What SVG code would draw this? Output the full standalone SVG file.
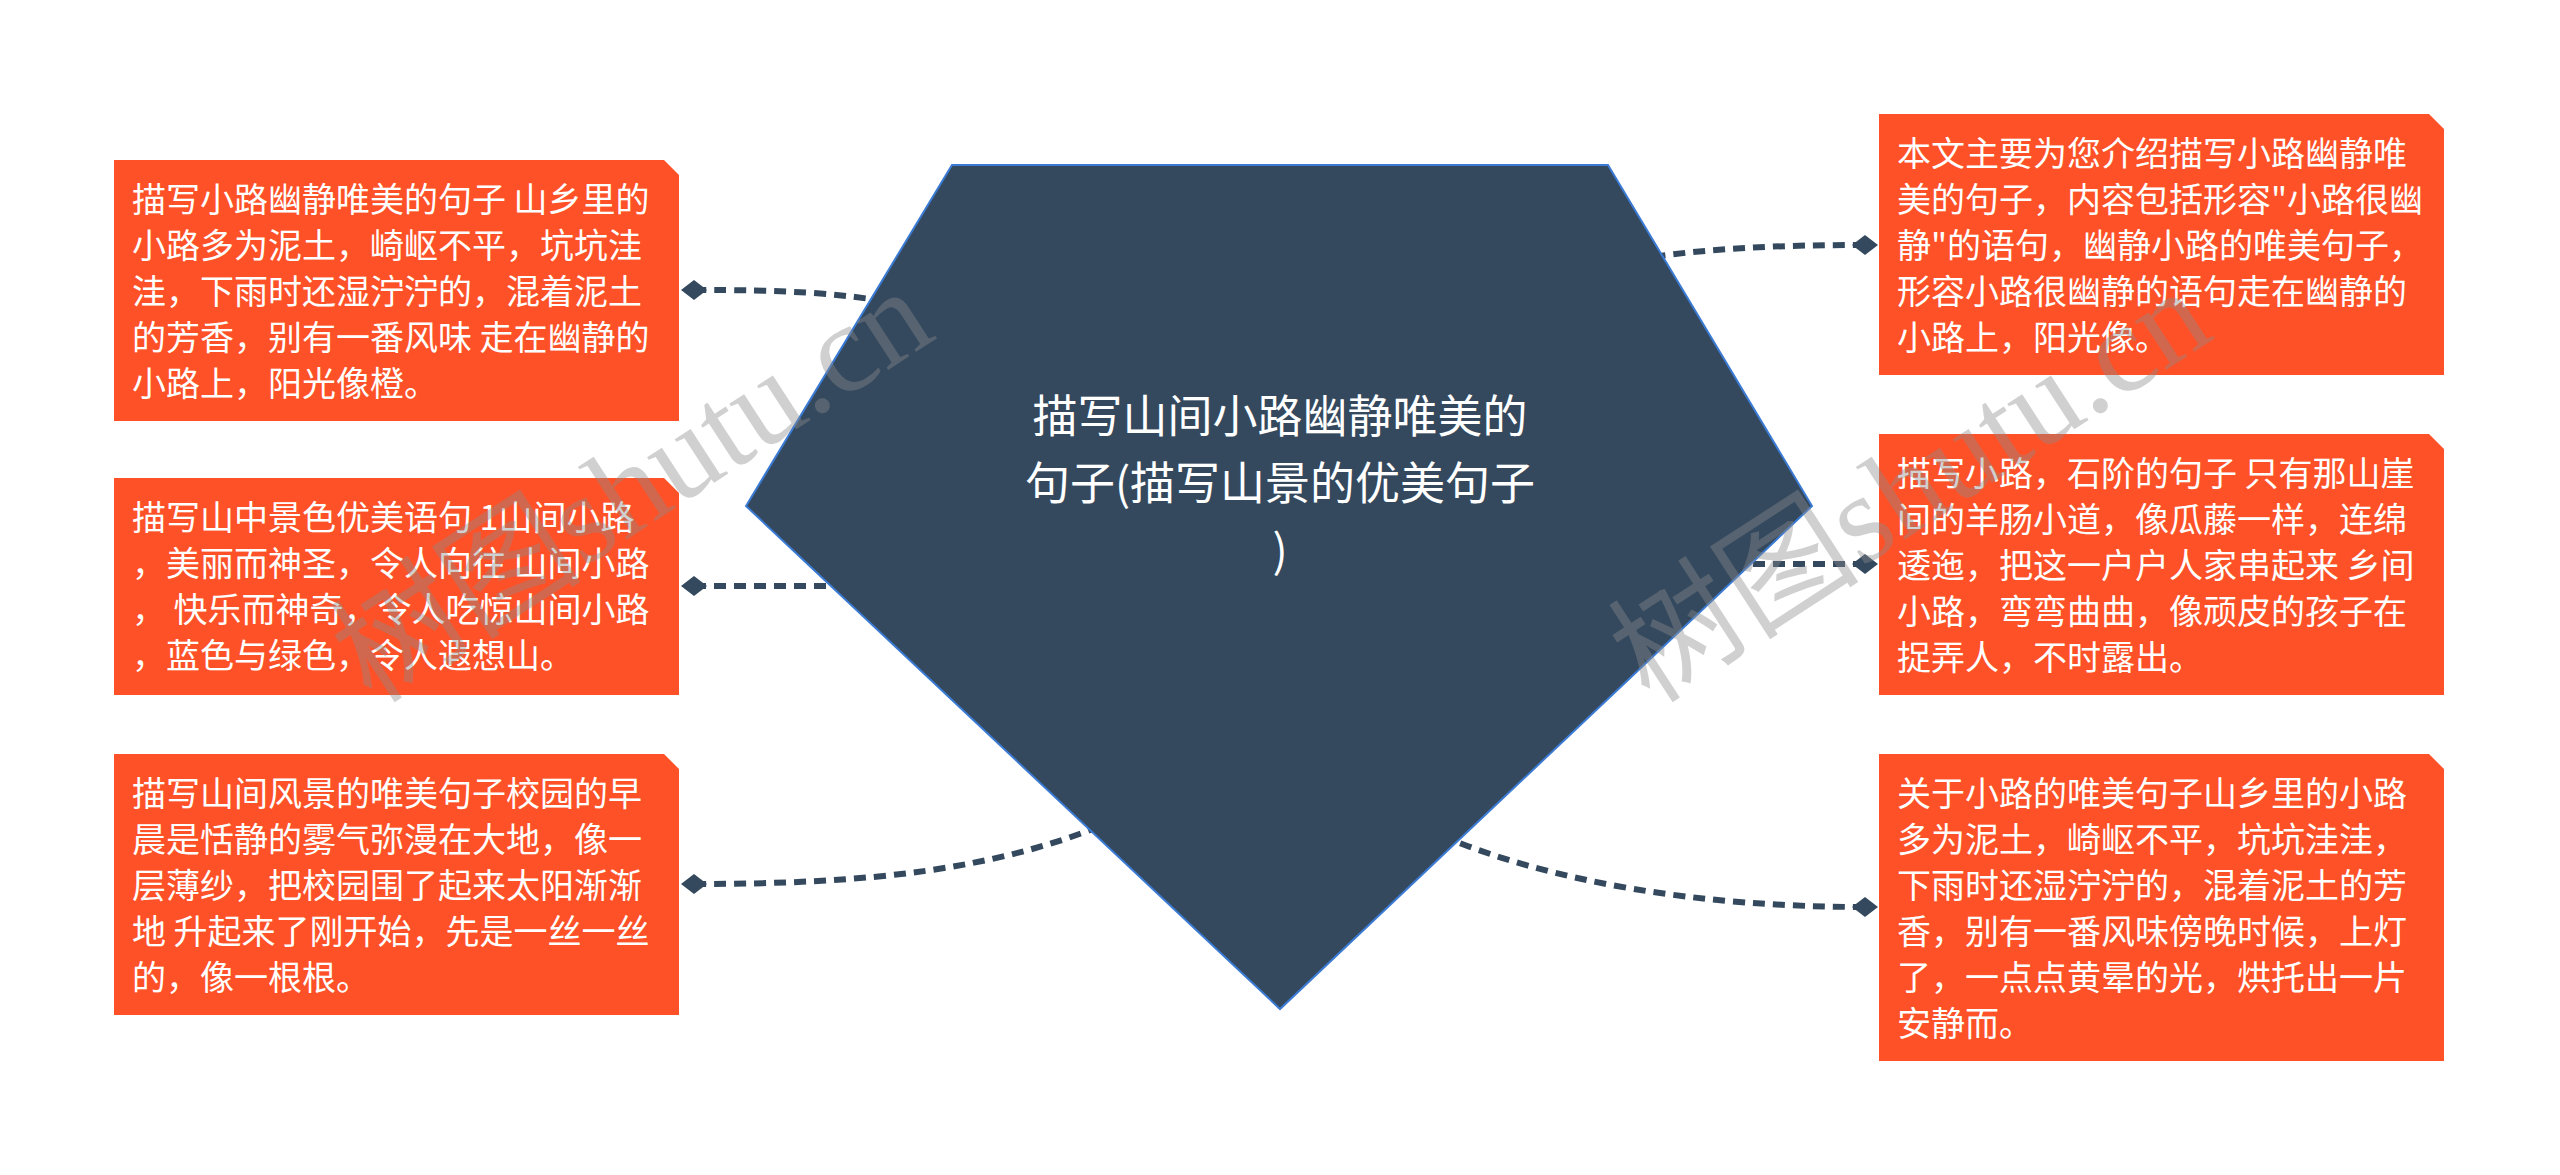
<svg xmlns="http://www.w3.org/2000/svg" width="2560" height="1175" viewBox="0 0 2560 1175">
<style>
.box{fill:#FE5127;}
.bt{font-family:"Noto Sans CJK SC","Noto Sans",sans-serif;font-size:34px;fill:#FFFFFF;}
.ct{font-family:"Noto Sans CJK SC","Noto Sans",sans-serif;font-size:45px;fill:#FFFFFF;text-anchor:middle;}
.link{fill:none;stroke:#34495E;stroke-width:6;stroke-dasharray:12 8;marker-start:url(#dia);}
.wm{font-family:"Liberation Serif","Noto Sans CJK SC",serif;font-size:126px;fill:#8c8c8c;opacity:0.4;}
</style>
<defs>
<marker id="dia" markerUnits="userSpaceOnUse" viewBox="0 0 26 20" refX="13" refY="10" markerWidth="26" markerHeight="20" orient="auto">
<path d="M0 10 L13 0 L26 10 L13 20 Z" fill="#34495E"/>
</marker>
</defs>
<rect width="2560" height="1175" fill="#FFFFFF"/>

<g id="connectors">
<path class="link" d="M694 290 C780 290 840 292 905 305"/>
<path class="link" d="M694 586 L900 586"/>
<path class="link" d="M694 884 C870 884 1000 870 1120 818"/>
<path class="link" d="M1865 245 C1780 245 1700 248 1620 262"/>
<path class="link" d="M1865 564 L1720 564"/>
<path class="link" d="M1865 907 C1700 907 1550 882 1440 835"/>
</g>

<g id="root">
<polygon points="952,165 1608,165 1812,506 1280,1009 746,506" fill="#34495E" stroke="#3B7BD4" stroke-width="2"/>
<text class="ct"><tspan x="1280" y="433">描写山间小路幽静唯美的</tspan><tspan x="1280" y="500">句子(描写山景的优美句子</tspan><tspan x="1280" y="567">)</tspan></text>
</g>

<g id="left1">
<path class="box" d="M114 160 H664 L679 175 V421 H114 Z"/>
<text class="bt"><tspan x="132" y="211.5">描写小路幽静唯美的句子 山乡里的</tspan><tspan x="132" y="257.5">小路多为泥土，崎岖不平，坑坑洼</tspan><tspan x="132" y="303.5">洼，下雨时还湿泞泞的，混着泥土</tspan><tspan x="132" y="349.5">的芳香，别有一番风味 走在幽静的</tspan><tspan x="132" y="395.5">小路上，阳光像橙。</tspan></text>
</g>

<g id="left2">
<path class="box" d="M114 478 H664 L679 493 V695 H114 Z"/>
<text class="bt"><tspan x="132" y="529.5">描写山中景色优美语句 1山间小路</tspan><tspan x="132" y="575.5">，美丽而神圣，令人向往 山间小路</tspan><tspan x="132" y="621.5">， 快乐而神奇，令人吃惊山间小路</tspan><tspan x="132" y="667.5">，蓝色与绿色，令人遐想山。</tspan></text>
</g>

<g id="left3">
<path class="box" d="M114 754 H664 L679 769 V1015 H114 Z"/>
<text class="bt"><tspan x="132" y="805.5">描写山间风景的唯美句子校园的早</tspan><tspan x="132" y="851.5">晨是恬静的雾气弥漫在大地，像一</tspan><tspan x="132" y="897.5">层薄纱，把校园围了起来太阳渐渐</tspan><tspan x="132" y="943.5">地 升起来了刚开始，先是一丝一丝</tspan><tspan x="132" y="989.5">的，像一根根。</tspan></text>
</g>

<g id="right1">
<path class="box" d="M1879 114 H2429 L2444 129 V375 H1879 Z"/>
<text class="bt"><tspan x="1897" y="165.5">本文主要为您介绍描写小路幽静唯</tspan><tspan x="1897" y="211.5">美的句子，内容包括形容"小路很幽</tspan><tspan x="1897" y="257.5">静"的语句，幽静小路的唯美句子，</tspan><tspan x="1897" y="303.5">形容小路很幽静的语句走在幽静的</tspan><tspan x="1897" y="349.5">小路上，阳光像。</tspan></text>
</g>

<g id="right2">
<path class="box" d="M1879 434 H2429 L2444 449 V695 H1879 Z"/>
<text class="bt"><tspan x="1897" y="485.5">描写小路，石阶的句子 只有那山崖</tspan><tspan x="1897" y="531.5">间的羊肠小道，像瓜藤一样，连绵</tspan><tspan x="1897" y="577.5">逶迤，把这一户户人家串起来 乡间</tspan><tspan x="1897" y="623.5">小路，弯弯曲曲，像顽皮的孩子在</tspan><tspan x="1897" y="669.5">捉弄人，不时露出。</tspan></text>
</g>

<g id="right3">
<path class="box" d="M1879 754 H2429 L2444 769 V1061 H1879 Z"/>
<text class="bt"><tspan x="1897" y="805.5">关于小路的唯美句子山乡里的小路</tspan><tspan x="1897" y="851.5">多为泥土，崎岖不平，坑坑洼洼，</tspan><tspan x="1897" y="897.5">下雨时还湿泞泞的，混着泥土的芳</tspan><tspan x="1897" y="943.5">香，别有一番风味傍晚时候，上灯</tspan><tspan x="1897" y="989.5">了，一点点黄晕的光，烘托出一片</tspan><tspan x="1897" y="1035.5">安静而。</tspan></text>
</g>

<g id="watermark">
<text class="wm" transform="translate(372,705) rotate(-33)">树图shutu.cn</text>
<text class="wm" transform="translate(1650,705) rotate(-33)">树图shutu.cn</text>
</g>
</svg>
